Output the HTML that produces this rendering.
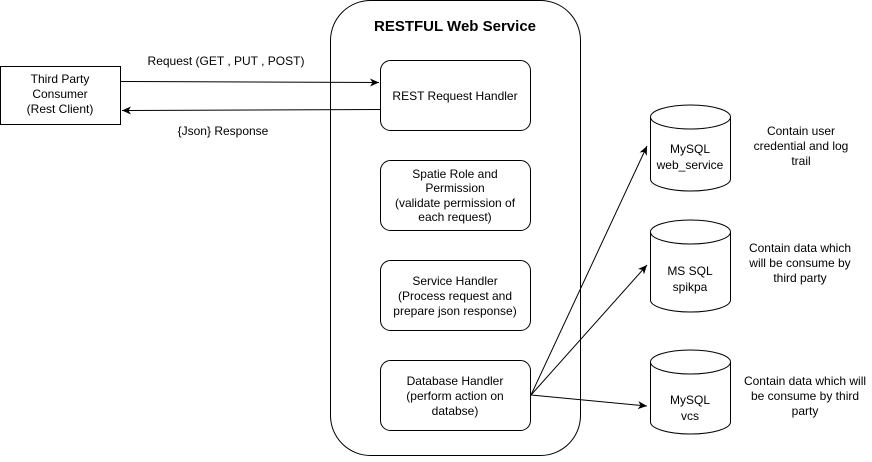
<!DOCTYPE html>
<html><head><style>
body{margin:0;background:#fff;}
svg{display:block;font-family:"Liberation Sans",Arial,sans-serif;}
</style></head><body>
<svg width="872" height="462" viewBox="0 0 872 462" xmlns="http://www.w3.org/2000/svg">
<defs>
<marker id="a" markerWidth="10" markerHeight="10" refX="9" refY="5" orient="auto" markerUnits="userSpaceOnUse">
<path d="M0,1 L9,5 L0,9 L2.5,5 Z" fill="#000"/>
</marker>
</defs>
<g fill="none" stroke="#000" stroke-width="1">
<rect x="330.5" y="0.5" width="250" height="455" rx="40"/>
<rect x="0.5" y="66.5" width="120" height="58"/>
<rect x="380.5" y="60.5" width="150" height="70" rx="10"/>
<rect x="380.5" y="160.5" width="150" height="70" rx="10"/>
<rect x="380.5" y="260.5" width="150" height="70" rx="10"/>
<rect x="380.5" y="360.5" width="150" height="70" rx="10"/>
<line x1="120.5" y1="81.5" x2="379" y2="82.5" marker-end="url(#a)"/>
<line x1="380" y1="109.5" x2="122" y2="110.5" marker-end="url(#a)"/>
<line x1="531" y1="395" x2="647" y2="146" marker-end="url(#a)"/>
<line x1="531" y1="395" x2="647" y2="265" marker-end="url(#a)"/>
<line x1="531" y1="395" x2="647" y2="406" marker-end="url(#a)"/>
<path d="M650.5,117 a40,12 0 0 1 80,0 v62 a40,12 0 0 1 -80,0 Z M650.5,117 a40,12 0 0 0 80,0"/>
<path d="M650.5,232 a40,12 0 0 1 80,0 v68 a40,12 0 0 1 -80,0 Z M650.5,232 a40,12 0 0 0 80,0"/>
<path d="M650.5,362 a40,12 0 0 1 80,0 v60 a40,12 0 0 1 -80,0 Z M650.5,362 a40,12 0 0 0 80,0"/>
</g>
<g font-size="12" text-anchor="middle" fill="#000">
<text x="455" y="31" font-size="15" font-weight="bold">RESTFUL Web Service</text>
<text x="60" y="83">Third Party</text>
<text x="60" y="98">Consumer</text>
<text x="60" y="113">(Rest Client)</text>
<text x="226" y="65">Request (GET , PUT , POST)</text>
<text x="223" y="135">{Json} Response</text>
<text x="455" y="100">REST Request Handler</text>
<text x="455" y="178">Spatie Role and</text>
<text x="455" y="192">Permission</text>
<text x="455" y="207">(validate permission of</text>
<text x="455" y="221">each request)</text>
<text x="455" y="285">Service Handler</text>
<text x="455" y="300">(Process request and</text>
<text x="455" y="315">prepare json response)</text>
<text x="455" y="385">Database Handler</text>
<text x="455" y="400">(perform action on</text>
<text x="455" y="415">databse)</text>
<text x="690" y="153">MySQL</text>
<text x="690" y="169">web_service</text>
<text x="690" y="275">MS SQL</text>
<text x="690" y="291">spikpa</text>
<text x="690" y="404">MySQL</text>
<text x="690" y="420">vcs</text>
<text x="801" y="135">Contain user</text>
<text x="801" y="150">credential and log</text>
<text x="801" y="165">trail</text>
<text x="800" y="252">Contain data which</text>
<text x="800" y="267">will be consume by</text>
<text x="800" y="282">third party</text>
<text x="805" y="385">Contain data which will</text>
<text x="805" y="400">be consume by third</text>
<text x="805" y="415">party</text>
</g>
</svg>
</body></html>
